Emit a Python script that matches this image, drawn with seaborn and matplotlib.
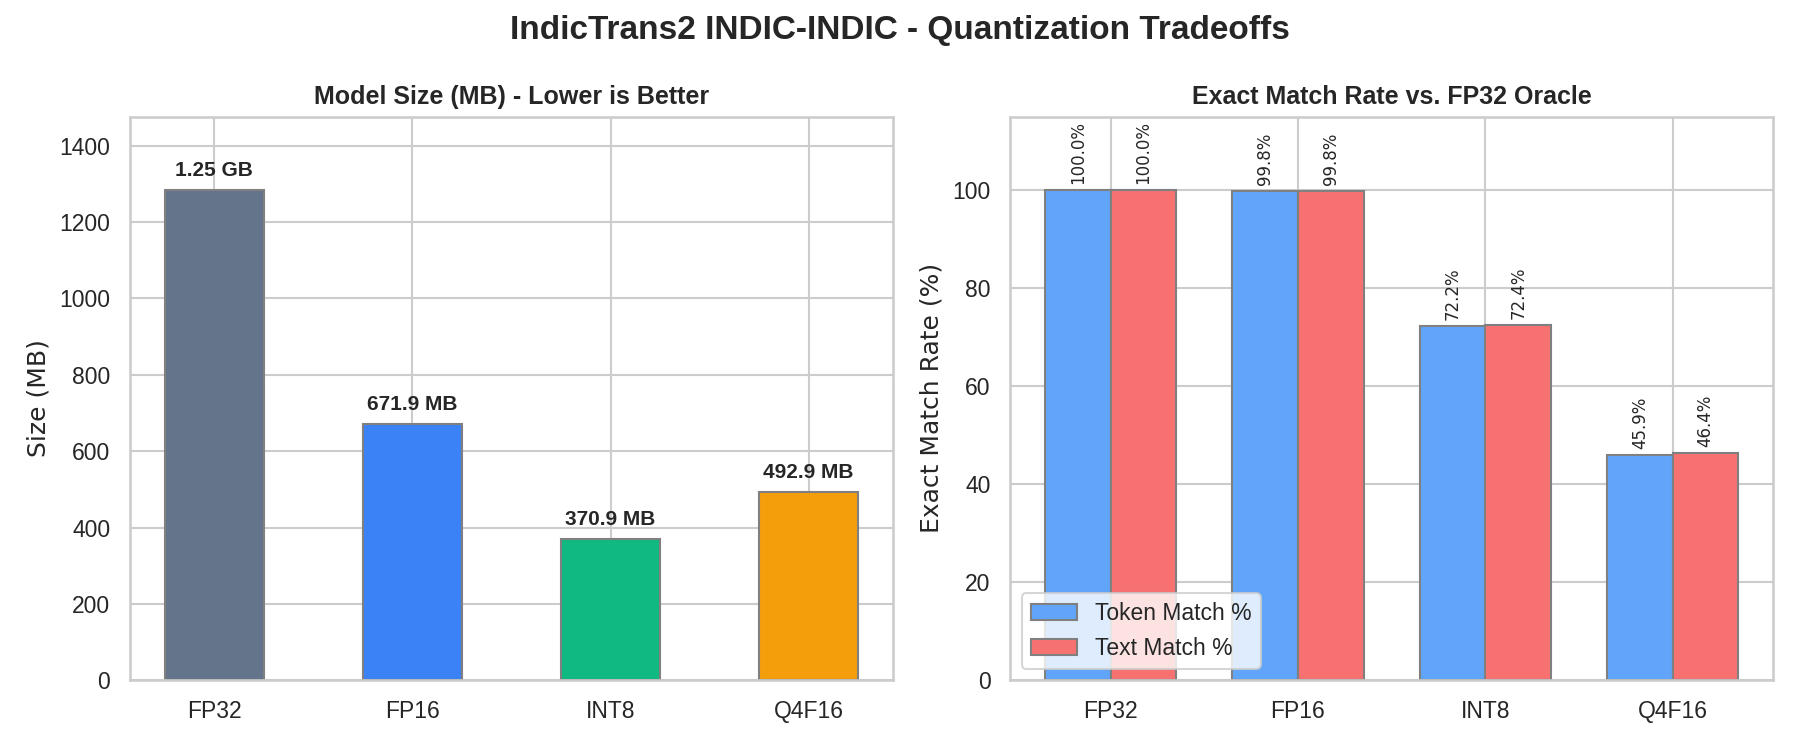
import pandas as pd
import seaborn as sns
import matplotlib.pyplot as plt

# data
variants = ['FP32', 'FP16', 'INT8', 'Q4F16']
size_mb = [1284.0, 671.9, 370.9, 492.9]
size_labels = ['1.25 GB', '671.9 MB', '370.9 MB', '492.9 MB']
token_match = [100.0, 99.8, 72.2, 45.9]
text_match = [100.0, 99.8, 72.4, 46.4]

size_colors = ['#64748b', '#3b82f6', '#10b981', '#f59e0b']
match_colors = ['#60a5fa', '#f87171']

sns.set_theme(style="whitegrid")
plt.rcParams['font.family'] = ['Liberation Sans', 'DejaVu Sans']

fig, axes = plt.subplots(1, 2, figsize=(12, 5), dpi=150)
fig.suptitle('IndicTrans2 INDIC-INDIC - Quantization Tradeoffs', fontsize=16, fontweight='bold')

# --- left: model size ---
size_df = pd.DataFrame({'variant': variants, 'size': size_mb})
ax = axes[0]
sns.barplot(ax=ax, data=size_df, x='variant', y='size', hue='variant',
            palette=size_colors, width=0.5, edgecolor='gray', linewidth=1,
            legend=False, saturation=1)
for i, (v, lab) in enumerate(zip(size_mb, size_labels)):
    ax.text(i, v + max(size_mb) * 0.02, lab, ha='center', va='bottom',
            fontsize=10, fontweight='bold')
ax.set_title('Model Size (MB) - Lower is Better', fontsize=12, fontweight='bold')
ax.set_xlabel('')
ax.set_ylabel('Size (MB)', fontsize=12, family='DejaVu Sans')
ax.set_ylim(0, max(size_mb) * 1.15)
ax.set_xlim(-0.425, 3.425)
ax.xaxis.grid(True)
ax.tick_params(labelsize=11)

# --- right: exact match ---
match_df = pd.DataFrame({
    'variant': variants * 2,
    'rate': token_match + text_match,
    'metric': ['Token Match %'] * 4 + ['Text Match %'] * 4,
})
ax = axes[1]
sns.barplot(ax=ax, data=match_df, x='variant', y='rate', hue='metric',
            palette=match_colors, width=0.7, edgecolor='gray', linewidth=1,
            saturation=1)
for cont in ax.containers:
    ax.bar_label(cont, fmt='%.1f%%', rotation=90, padding=3, fontsize=8,
                 family='DejaVu Sans')
ax.set_title('Exact Match Rate vs. FP32 Oracle', fontsize=12, fontweight='bold')
ax.set_xlabel('')
ax.set_ylabel('Exact Match Rate (%)', fontsize=12, family='DejaVu Sans')
ax.set_ylim(0, 115)
ax.set_xlim(-0.535, 3.535)
ax.xaxis.grid(True)
ax.tick_params(labelsize=11)
ax.legend(loc='lower left', fontsize=11)

plt.tight_layout()
plt.savefig('out.png', dpi=150)
